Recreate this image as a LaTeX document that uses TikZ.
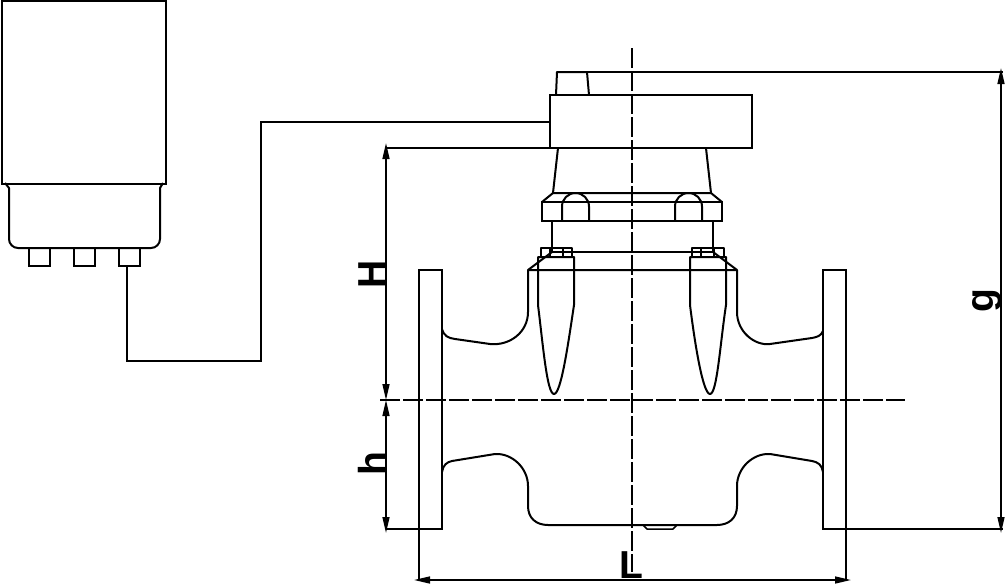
\documentclass[tikz,border=0pt]{standalone}
\usepackage{fontspec}
\setmainfont{Liberation Sans}
\usepackage{tikz}
\usetikzlibrary{arrows.meta}
\tikzstyle{body} = [draw=black,line width=2pt,line join=round]
\tikzstyle{box} = [rectangle,draw=black,line width=2pt,inner sep=0pt,outer sep=0pt]
\tikzstyle{wire} = [color=black,line width=2pt]
\tikzstyle{center} = [color=black,line width=1.8pt,dash pattern=on 20pt off 3pt]
\tikzstyle{dim} = [color=black,line width=1.5pt]
\tikzstyle{dimarrow} = [dim,{Triangle[length=16pt,width=7pt]}-{Triangle[length=16pt,width=7pt]}]
\tikzstyle{letter} = [inner sep=0pt,font=\fontsize{39}{39}\selectfont\bfseries]

\begin{document}
\begin{tikzpicture}[x=1pt,y=-1pt]
	\useasboundingbox (0,0) rectangle (1005,584);

	%actuator
	\node (case) [box,minimum width=164pt,minimum height=183pt] at (84,92) {};
	\draw [body] (5,183) -- (9,188) -- (9,239) arc[start angle=180,end angle=90,radius=9] -- (151,248) arc[start angle=90,end angle=0,radius=9] -- (160,188) -- (163,183);
	\node (T1) [box,minimum width=21pt,minimum height=18pt] at (39.5,257) {};
	\node (T2) [box,minimum width=21pt,minimum height=18pt] at (84.5,257) {};
	\node (T3) [box,minimum width=21pt,minimum height=18pt] at (129.5,257) {};

	%head
	\node (head) [box,minimum width=202pt,minimum height=53pt] at (651,121.5) {};
	\coordinate (W0) at (127,266);
	\coordinate (W1) at (261,361);
	\draw [wire] (W0) |- (W1) |- (head.west);
	\draw [body] (556,95) -- (557,72) -- (587,72) -- (589,95);
	\draw [body] (558,148) -- (553,193) -- (711,193) -- (706,148);

	%collar
	\node (collar) [box,minimum width=180pt,minimum height=19pt] at (632,211.5) {};
	\draw [body] (553,193) -- (542,202);
	\draw [body] (711,193) -- (722,202);
	\draw [body] (562,221) -- (562,206.5) arc[start angle=180,end angle=360,radius=13.5] -- (589,221);
	\draw [body] (675,221) -- (675,206.5) arc[start angle=180,end angle=360,radius=13.5] -- (702,221);
	\draw [body] (552,221) -- (552,252) -- (713,252) -- (713,221);

	%bolts
	\draw [body,line width=1.5pt] (541,257) -- (541,248) -- (572,248) -- (572,257);
	\draw [body,line width=1.5pt] (550,248) -- (550,257);
	\draw [body,line width=1.5pt] (563,248) -- (563,257);
	\draw [body,line width=1.5pt] (692,257) -- (692,248) -- (724,248) -- (724,257);
	\draw [body,line width=1.5pt] (701,248) -- (701,257);
	\draw [body,line width=1.5pt] (714,248) -- (714,257);
	\draw [body] (538,257) -- (574,257) -- (574,305) .. controls (568,345) and (561,394) .. (554,394) .. controls (547,394) and (543,345) .. (538,305) -- cycle;
	\draw [body] (690,257) -- (726,257) -- (726,305) .. controls (720,345) and (717,394) .. (710,394) .. controls (703,394) and (695,345) .. (690,305) -- cycle;

	%valve body
	\node (flangeL) [box,minimum width=23pt,minimum height=259pt] at (430.5,399.5) {};
	\node (flangeR) [box,minimum width=23pt,minimum height=259pt] at (834.5,399.5) {};
	\draw [body] (552,252) -- (528,270) -- (737,270) -- (713,252);
	\draw [body] (442,329) .. controls (444,336) and (448,338) .. (455,339) -- (490,344) .. controls (510,346) and (528,332) .. (528,312) -- (528,270);
	\draw [body] (823,331) .. controls (821,336) and (817,337) .. (812,338) -- (770,344) .. controls (755,346) and (737,332) .. (737,312) -- (737,270);
	\draw [body] (442,472) .. controls (443,465) and (447,462) .. (452,461) -- (495,454) .. controls (512,453) and (528,468) .. (528,486) -- (528,506) .. controls (528,518) and (536,525) .. (548,525) -- (717,525) .. controls (729,525) and (737,518) .. (737,506) -- (737,486) .. controls (737,468) and (753,453) .. (770,454) -- (812,461) .. controls (818,462) and (822,465) .. (823,472);
	\draw [body,line width=1.5pt] (643,525) -- (647,529) -- (673,529) -- (677,525);

	%center lines
	\coordinate (CH0) at (380,400);
	\coordinate (CH1) at (905,400);
	\coordinate (CV0) at (632,48);
	\coordinate (CV1) at (632,572);
	\draw [center] (CH0) -- (CH1);
	\draw [center] (CV0) -- (CV1);

	%dimensions
	\coordinate (gtop) at (1003,72);
	\coordinate (gbot) at (1003,529);
	\coordinate (Htop) at (386,148);
	\coordinate (hbot) at (386,529);
	\coordinate (Lleft) at (419,580);
	\coordinate (Lright) at (846,580);
	\draw [dim] (587,72) -- (gtop);
	\draw [dim] (Htop) -- (head.south west);
	\draw [dim] (hbot) -- (flangeL.south east);
	\draw [dim] (flangeR.south east) -- (gbot);
	\draw [dim] (flangeL.south west) -- (Lleft);
	\draw [dim] (flangeR.south east) -- (Lright);
	\coordinate (HA) at (386,143);
	\coordinate (HB) at (386,400);
	\coordinate (hA) at (386,400);
	\coordinate (hB) at (386,533);
	\coordinate (gA) at (1001,68);
	\coordinate (gB) at (1001,533);
	\coordinate (LA) at (414,580);
	\coordinate (LB) at (851,580);
	\draw [dimarrow] (HA) -- (HB);
	\draw [dimarrow] (hA) -- (hB);
	\draw [dimarrow] (gA) -- (gB);
	\draw [dimarrow] (LA) -- (LB);

	\node (labH) [letter,rotate=90] at (372,274) {H};
	\node (labh) [letter,rotate=90] at (372,464) {h};
	\node (labg) [letter,rotate=90] at (987,300.5) {g};
	\node (labL) [letter] at (631,565) {L};
\end{tikzpicture}
\end{document}
